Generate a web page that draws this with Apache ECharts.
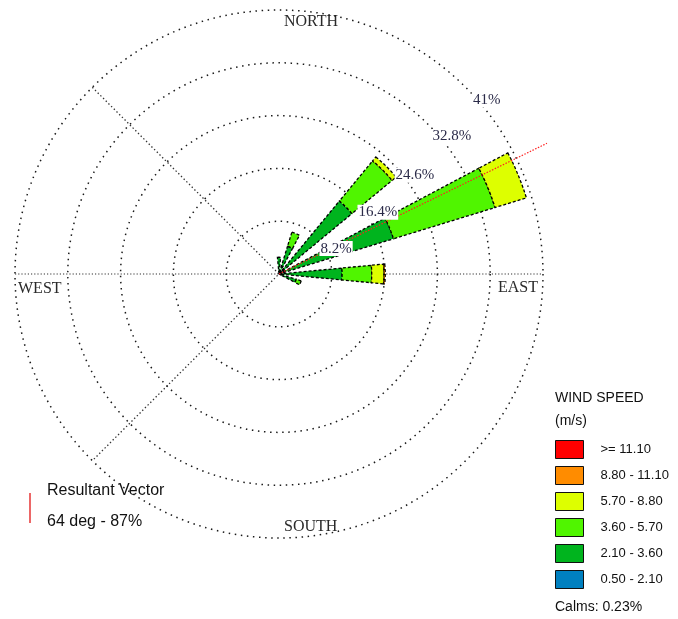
<!DOCTYPE html>
<html>
<head>
<meta charset="utf-8">
<script src="https://cdn.jsdelivr.net/npm/echarts@6/dist/echarts.min.js"></script>
<style>
  html, body { margin: 0; padding: 0; background: #fff; }
  #chart { width: 678px; height: 619px; }
</style>
</head>
<body>
<div id="chart"></div>
<script>
// ---- wind rose data ----
const directions = ['N', 'NNE', 'NE', 'ENE', 'E', 'ESE', 'SE', 'SSE', 'S', 'SSW', 'SW', 'WSW', 'W', 'WNW', 'NW', 'NNW'];
const speedClasses = ['0.50 - 2.10', '2.10 - 3.60', '3.60 - 5.70', '5.70 - 8.80', '8.80 - 11.10', '>= 11.10'];
// frequency (%) of each speed class, per direction
const freq050to210 = [0.4, 0.5, 0.6, 0.6, 0.4, 0.3, 0, 0, 0, 0, 0, 0, 0, 0, 0, 0];
const freq210to360 = [2.2, 4.0, 14.1, 18.0, 9.4, 2.5, 0, 0, 0, 0, 0, 0, 0, 0, 0, 0];
const freq360to570 = [0, 2.3, 8.1, 16.5, 4.6, 0.8, 0, 0, 0, 0, 0, 0, 0, 0, 0, 0];
const freq570to880 = [0, 0, 0.8, 5.1, 1.9, 0, 0, 0, 0, 0, 0, 0, 0, 0, 0, 0];
const freq880to1110 = [0, 0, 0, 0, 0.2, 0, 0, 0, 0, 0, 0, 0, 0, 0, 0, 0];
const freq1110up = [0, 0, 0, 0, 0, 0, 0, 0, 0, 0, 0, 0, 0, 0, 0, 0];
const ringTicks = [8.2, 16.4, 24.6, 32.8, 41];
const ringTickLabels = ['8.2%', '16.4%', '24.6%', '32.8%', '41%'];
const compassLabels = ['NORTH', 'EAST', 'SOUTH', 'WEST'];
const calmsPct = 0.23;
const resultantDeg = 64;
const resultantPct = 87;

// ---- layout & style ----
const CX = 279, CY = 274, R = 264;
const ringMax = ringTicks[ringTicks.length - 1];
const ringStep = ringTicks[0];
// overlay polar shares the ring scale but reaches further out
const overlayMax = 50;
const overlayR = R * overlayMax / ringMax;
const ringLabelBearing = [66, 58, 54, 51.5, 50];
const ringLabelLift = [1.5, 1.7, 1.5, 1.5, 1.1];
const vectorDrawLength = 46.3;   // drawn ray length, in ring units
const speedColors = ['#0080C0', '#00B41E', '#50F500', '#DDFF00', '#FF8C00', '#FF0000'];
const serif = '"Liberation Serif", "DejaVu Serif", serif';
const sans = '"Liberation Sans", Arial, sans-serif';

const freqBySpeed = [freq050to210, freq210to360, freq360to570, freq570to880, freq880to1110, freq1110up];

const petalSeries = freqBySpeed.map((vals, k) => ({
  type: 'bar',
  name: speedClasses[k],
  coordinateSystem: 'polar',
  polarIndex: 0,
  stack: 'rose',
  barWidth: '48%',
  data: vals.map(v => (v > 0 ? v : '-')),
  itemStyle: {
    color: speedColors[k],
    borderColor: '#000',
    borderWidth: 1.3,
    borderType: [3, 2]
  },
  emphasis: { disabled: true },
  silent: true,
  z: 3
}));

const guideStyle = (dash, w) => ({ color: '#333', width: w, type: dash });

const chart = echarts.init(document.getElementById('chart'), null, { renderer: 'canvas' });
chart.setOption({
  animation: false,
  backgroundColor: '#fff',
  polar: [
    { center: [CX, CY], radius: [0, R] },
    { center: [CX, CY], radius: [0, overlayR] }
  ],
  angleAxis: [
    {
      polarIndex: 0, type: 'category', data: directions,
      startAngle: 90 + 360 / directions.length / 2, clockwise: true,
      axisLine: { show: false }, axisTick: { show: false },
      axisLabel: { show: false }, splitLine: { show: false }
    },
    {
      polarIndex: 1, type: 'value', min: 0, max: 360, startAngle: 90, clockwise: true,
      axisLine: { show: false }, axisTick: { show: false },
      axisLabel: { show: false }, splitLine: { show: false }
    }
  ],
  radiusAxis: [
    {
      polarIndex: 0, type: 'value', min: 0, max: ringMax, interval: ringStep,
      axisLine: { show: false }, axisTick: { show: false }, axisLabel: { show: false },
      splitLine: { show: true, lineStyle: { color: '#1a1a1a', width: 1.5, type: [1.5, 4.6] } },
      z: 1
    },
    {
      polarIndex: 1, type: 'value', min: 0, max: overlayMax,
      axisLine: { show: false }, axisTick: { show: false }, axisLabel: { show: false },
      splitLine: { show: false }
    }
  ],
  legend: {
    data: speedClasses.slice().reverse(),
    orient: 'vertical',
    left: 555, top: 440,
    padding: 0,
    itemWidth: 28, itemHeight: 18, itemGap: 7,
    icon: 'rect',
    selectedMode: false,
    itemStyle: { borderColor: '#111', borderWidth: 1, borderType: 'solid' },
    textStyle: { fontFamily: sans, fontSize: 13, color: '#111', padding: [0, 0, 0, 12] }
  },
  series: [
    // west-east guide line
    {
      type: 'line', coordinateSystem: 'polar', polarIndex: 1, silent: true, symbol: 'none',
      data: [[ringMax, 270], [0, 0], [ringMax, 90]],
      lineStyle: guideStyle([1.2, 2], 1.2), z: 1
    },
    // north-west and south-west guide lines
    {
      type: 'line', coordinateSystem: 'polar', polarIndex: 1, silent: true, symbol: 'none',
      data: [[ringMax, 315], [0, 0], [ringMax, 225]],
      lineStyle: guideStyle([1.4, 2.4], 1.3), z: 1
    },
    ...petalSeries,
    // resultant vector
    {
      type: 'line', coordinateSystem: 'polar', polarIndex: 1, silent: true, symbol: 'none',
      data: [[0, resultantDeg], [vectorDrawLength, resultantDeg]],
      lineStyle: { color: '#FF2020', width: 1.2, type: [1.5, 1.5] }, z: 5
    },
    // ring percentage labels
    {
      type: 'scatter', coordinateSystem: 'polar', polarIndex: 1, silent: true,
      symbolSize: 1, itemStyle: { color: 'rgba(0,0,0,0)', opacity: 1 },
      data: ringTicks.map((t, i) => [t + ringLabelLift[i], ringLabelBearing[i]]),
      label: {
        show: true, position: 'inside',
        formatter: p => ringTickLabels[p.dataIndex],
        fontFamily: serif, fontSize: 15, color: '#2a2a48',
        backgroundColor: '#fff', padding: [0, 1]
      },
      z: 6
    }
  ],
  graphic: [
    { type: 'text', x: 284, y: 22, style: { text: compassLabels[0], font: '16px ' + serif, fill: '#2a2a2a', align: 'left', verticalAlign: 'middle' } },
    { type: 'text', x: 538, y: 288, style: { text: compassLabels[1], font: '16px ' + serif, fill: '#2a2a2a', align: 'right', verticalAlign: 'middle' } },
    { type: 'text', x: 284, y: 527, style: { text: compassLabels[2], font: '16px ' + serif, fill: '#2a2a2a', align: 'left', verticalAlign: 'middle' } },
    { type: 'text', x: 18, y: 289, style: { text: compassLabels[3], font: '16px ' + serif, fill: '#2a2a2a', align: 'left', verticalAlign: 'middle' } },
    { type: 'text', x: 555, y: 398, style: { text: 'WIND SPEED', font: '14px ' + sans, fill: '#111', align: 'left', verticalAlign: 'middle' } },
    { type: 'text', x: 555, y: 421, style: { text: '(m/s)', font: '14px ' + sans, fill: '#111', align: 'left', verticalAlign: 'middle' } },
    { type: 'text', x: 555, y: 607, style: { text: 'Calms: ' + calmsPct.toFixed(2) + '%', font: '14px ' + sans, fill: '#111', align: 'left', verticalAlign: 'middle' } },
    { type: 'line', shape: { x1: 30, y1: 493, x2: 30, y2: 523 }, style: { stroke: '#E00000', lineWidth: 1.2 } },
    { type: 'text', x: 47, y: 491, style: { text: 'Resultant Vector', font: '16px ' + sans, fill: '#111', align: 'left', verticalAlign: 'middle' } },
    { type: 'text', x: 47, y: 522, style: { text: resultantDeg + ' deg - ' + resultantPct + '%', font: '16px ' + sans, fill: '#111', align: 'left', verticalAlign: 'middle' } }
  ]
});
</script>
</body>
</html>
